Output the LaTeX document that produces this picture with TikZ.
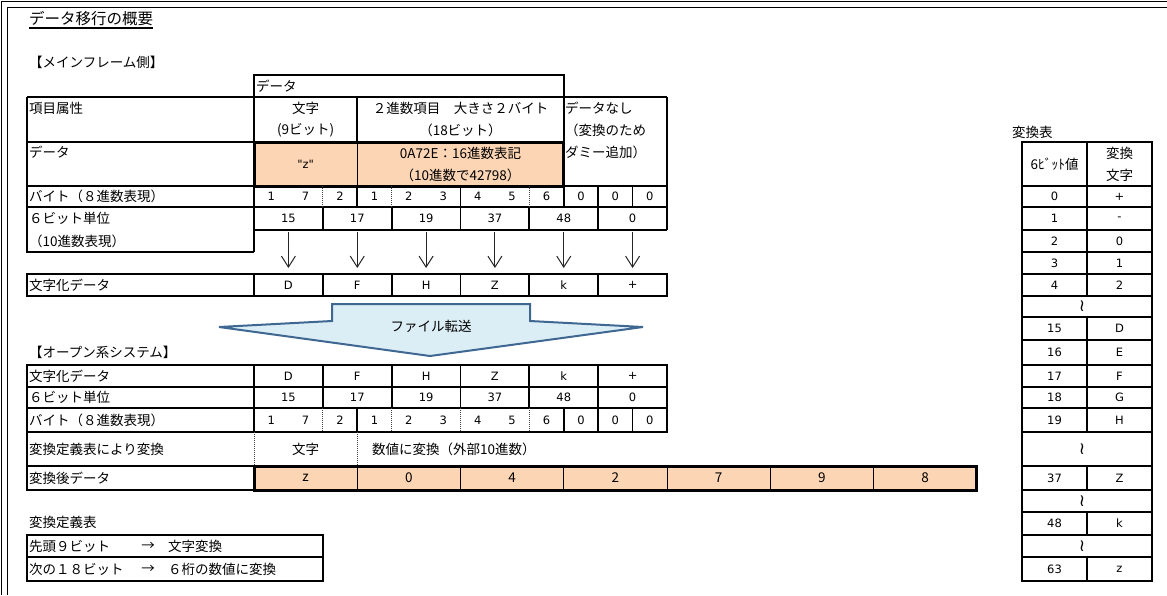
\documentclass[tikz,border=0pt]{standalone}
\usepackage{fontspec}
\setmainfont{DejaVu Sans}[Ligatures=TeXOff]
\newfontfamily\jp{Noto Sans CJK JP}[Ligatures=TeXOff]
\usetikzlibrary{arrows.meta}
\definecolor{org}{HTML}{FCD5B4}
\definecolor{arrfill}{HTML}{DCEEF5}
\definecolor{arrline}{HTML}{3E6792}
\begin{document}
\begin{tikzpicture}[x=1pt,y=-1pt,
  tl/.style={line width=1.7pt},
  thk/.style={line width=3pt},
  thn/.style={line width=0.9pt},
  dl/.style={line width=0.7pt, dash pattern=on 1pt off 1pt, black!75},
  jl/.style={font=\jp\fontsize{13.5}{15}\selectfont, inner sep=0pt, anchor=west},
  jc/.style={font=\jp\fontsize{13.5}{15}\selectfont, inner sep=0pt},
  nc/.style={font=\fontsize{11.5}{13}\selectfont, inner sep=0pt},
  wv/.style={font=\fontsize{17}{17}\selectfont, inner sep=0pt},
  dn/.style={line width=1pt, black!85, -{Straight Barb[length=11pt,width=14pt]}}]
\useasboundingbox (0,0) rectangle (1167,595);
% frame
\draw[line width=1.8pt] (1.5,595) |- (1167,1.5);
\draw[line width=1.3pt] (7.5,595) |- (1167,7.5);
% title
\node[jl, font=\jp\fontsize{15.5}{17}\selectfont] (title) at (29,19) {データ移行の概要};
\draw[line width=1.2pt] (29,28) -- (153,28);
\node[jl] (mf) at (29,62) {【メインフレーム側】};

% ---------- upper table ----------
\fill[org] (254,142) rectangle (563.75,186);
\draw[tl] (254,75) rectangle (563.75,97);
\node[jl] (hdata) at (256,86) {データ};
\draw[tl] (27,97) -- (667,97);
\draw[tl] (27,97) -- (27,252) -- (254,252);
\draw[tl] (254,97) -- (254,252);
\draw[tl] (27,142) -- (254,142);
\draw[tl] (357.25,97) -- (357.25,142);
\draw[tl] (563.75,97) -- (563.75,142);
\draw[tl] (667,97) -- (667,230);
\draw[tl] (27,186) -- (667,186);
\draw[tl] (27,207) -- (667,207);
\draw[tl] (254,230) -- (667,230);
\draw[thn] (357.25,142) -- (357.25,186);
\draw[thk] (254,142) rectangle (563.75,186);
% byte row separators
\foreach \k/\s in {2/dl,3/tl,4/dl,6/tl,8/dl,9/tl,10/tl,11/tl}
  \draw[\s] ({254+34.4167*\k},186) -- ({254+34.4167*\k},207);
\foreach \k in {2,4,6,8,10}
  \draw[tl] ({254+34.4167*\k},207) -- ({254+34.4167*\k},230);

\node[jl] (l1) at (29,108) {項目属性};
\node[jc] (c1a) at (305.6,108) {文字};
\node[jc] (c1b) at (305.6,130) {(9ビット)};
\node[jc] (c2a) at (460.5,108) {２進数項目　大きさ２バイト};
\node[jc] (c2b) at (460.5,130) {（18ビット）};
\node[jl] (c3a) at (565,108) {データなし};
\node[jl] (c3b) at (565,130) {（変換のため};
\node[jl] (c3c) at (565,152) {ダミー追加）};
\node[jl] (l2) at (29,152) {データ};
\node[nc] (dz) at (305.6,164) {"z"};
\node[jc] (dh1) at (460.5,153) {0A72E：16進数表記};
\node[jc] (dh2) at (460.5,175) {（10進数で42798）};
\node[jl] (l3) at (29,196.5) {バイト（８進数表現）};
\foreach \d [count=\k from 0] in {1,7,2,1,2,3,4,5,6,0,0,0}
  \node[nc] (ub\k) at ({254+34.4167*(\k+0.5)},196.5) {\d};
\node[jl] (l4) at (29,218.5) {６ビット単位};
\node[jl] (l5) at (29,241) {（10進数表現）};
\foreach \v [count=\k from 0] in {15,17,19,37,48,0}
  \node[nc] (us\k) at ({254+68.8333*(\k+0.5)},218.5) {\v};

% arrows
\foreach \k in {0,...,5}{
  \coordinate (as\k) at ({254+68.8333*(\k+0.5)},232);
  \coordinate (ae\k) at ({254+68.8333*(\k+0.5)},268);
  \draw[dn] (as\k) -- (ae\k);
}

% upper 文字化 row
\draw[tl] (27,274) rectangle (667,296);
\draw[tl] (254,274) -- (254,296);
\foreach \k in {2,4,6,8,10}
  \draw[tl] ({254+34.4167*\k},274) -- ({254+34.4167*\k},296);
\node[jl] (l6) at (29,285) {文字化データ};
\foreach \c [count=\k from 0] in {D,F,H,Z,k,+}
  \node[nc] (uc\k) at ({254+68.8333*(\k+0.5)},285) {\c};

% ---------- transfer arrow ----------
\draw[line width=2pt, arrline, fill=arrfill, line join=miter]
  (332,304) -- (530,304) -- (530,321) -- (643,327) -- (430,356) -- (219,327) -- (332,321) -- cycle;
\node[jc] (xfer) at (431,326) {ファイル転送};

% ---------- open system table ----------
\node[jl] (os) at (29,352) {【オープン系システム】};
\fill[org] (254,466) rectangle (976.75,490);
\draw[tl] (27,365) rectangle (667,432);
\draw[tl] (27,387) -- (667,387);
\draw[tl] (27,408) -- (667,408);
\draw[tl] (254,365) -- (254,432);
\draw[tl] (27,432) -- (27,490) -- (254,490);
\draw[tl] (27,466) -- (254,466);
\foreach \k in {2,4,6,8,10}
  \draw[tl] ({254+34.4167*\k},365) -- ({254+34.4167*\k},408);
\foreach \k/\s in {2/dl,3/tl,4/dl,6/dl,8/dl,9/tl,10/tl,11/tl}
  \draw[\s] ({254+34.4167*\k},408) -- ({254+34.4167*\k},432);
\draw[dl] (254,432) -- (254,466);
\draw[dl] (357.25,432) -- (357.25,466);
\foreach \k in {1,...,6}
  \draw[thn] ({254+103.25*\k},466) -- ({254+103.25*\k},490);
\draw[thk] (254,466) rectangle (976.75,490);

\node[jl] (o1) at (29,376) {文字化データ};
\foreach \c [count=\k from 0] in {D,F,H,Z,k,+}
  \node[nc] (oc\k) at ({254+68.8333*(\k+0.5)},376) {\c};
\node[jl] (o2) at (29,397.5) {６ビット単位};
\foreach \v [count=\k from 0] in {15,17,19,37,48,0}
  \node[nc] (os\k) at ({254+68.8333*(\k+0.5)},397.5) {\v};
\node[jl] (o3) at (29,420) {バイト（８進数表現）};
\foreach \d [count=\k from 0] in {1,7,2,1,2,3,4,5,6,0,0,0}
  \node[nc] (ob\k) at ({254+34.4167*(\k+0.5)},420) {\d};
\node[jl] (o4) at (29,449) {変換定義表により変換};
\node[jc] (o4a) at (305.6,449) {文字};
\node[jl] (o4b) at (372,449) {数値に変換（外部10進数）};
\node[jl] (o5) at (29,478) {変換後データ};
\foreach \c [count=\k from 0] in {z,0,4,2,7,9,8}
  \node[jc] (ov\k) at ({254+103.25*(\k+0.5)},478) {\c};

% ---------- definition table ----------
\node[jl] (def) at (29,522) {変換定義表};
\draw[tl] (27,535) rectangle (323,581);
\draw[tl] (27,557) -- (323,557);
\node[jl] (d1a) at (29,546) {先頭９ビット};
\node[jc] (d1b) at (148,546) {→};
\node[jl] (d1c) at (168,546) {文字変換};
\node[jl] (d2a) at (29,569) {次の１８ビット};
\node[jc] (d2b) at (148,569) {→};
\node[jl] (d2c) at (168,569) {６桁の数値に変換};

% ---------- conversion table (right) ----------
\node[jl] (ct) at (1012,132) {変換表};
\draw[tl] (1022,142) rectangle (1152,581);
\foreach \y in {186,207,230,252,274,296,317,340,365,387,408,432,466,490,512,535,557}
  \draw[tl] (1022,\y) -- (1152,\y);
\foreach \a/\b in {142/296,317/432,466/490,512/535,557/581}
  \draw[tl] (1087,\a) -- (1087,\b);
\node[jc] (th1) at (1054.5,164) {6ﾋﾞｯﾄ値};
\node[jc] (th2) at (1119.5,153) {変換};
\node[jc] (th3) at (1119.5,175) {文字};
\foreach \v/\c/\y [count=\k] in {0/+/196.5,1/-/218.5,2/0/241,3/1/263,4/2/285,15/D/328.5,16/E/352.5,17/F/376,18/G/397.5,19/H/420,37/Z/478,48/k/523.5,63/z/569}{
  \node[nc] (tv\k) at (1054.5,\y) {\v};
  \node[nc] (tc\k) at (1119.5,\y) {\c};
}
\foreach \y [count=\k] in {306.5,449,501,546}
  \node[wv] (tw\k) at (1082,\y) {≀};
\end{tikzpicture}
\end{document}
